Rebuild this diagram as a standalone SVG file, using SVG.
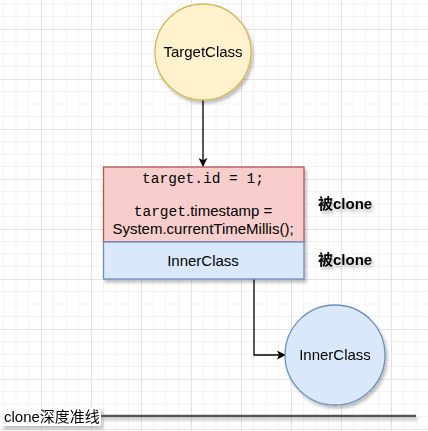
<svg xmlns="http://www.w3.org/2000/svg" width="428" height="431" viewBox="0 0 428 431">
<defs>
<pattern id="grid" patternUnits="userSpaceOnUse" x="41" y="29" width="50" height="50">
<path d="M12.5 0V50M25 0V50M37.5 0V50M0 12.5H50M0 25H50M0 37.5H50" stroke="#f3f3f3" stroke-width="1" fill="none"/>
<path d="M0.5 0V50M0 0.5H50" stroke="#e3e3e3" stroke-width="1" fill="none"/>
</pattern>
<filter id="sh" x="-20%" y="-20%" width="150%" height="150%">
<feDropShadow dx="2" dy="3" stdDeviation="1.5" flood-color="#000" flood-opacity="0.25"/>
</filter>
<marker id="arr" viewBox="0 0 10 10" refX="9" refY="5" markerWidth="9" markerHeight="9" markerUnits="userSpaceOnUse" orient="auto">
<path d="M0 0L10 5L0 10L2.5 5Z" fill="#000"/>
</marker>
<style>
.t{font-family:"Liberation Sans",Arial,sans-serif;font-size:15px;fill:#000}
.m{font-family:"Liberation Mono","Courier New",monospace;font-size:14.5px}
.b{font-family:"Liberation Sans",Arial,"Noto Sans CJK SC",sans-serif;font-size:15px;font-weight:bold;fill:#000}
.c{font-family:"Liberation Sans",Arial,"Noto Sans CJK SC",sans-serif;font-size:15px;fill:#000}
</style>
</defs>
<rect width="428" height="431" fill="#fff"/>
<rect width="428" height="431" fill="url(#grid)"/>
<g id="connectors" fill="none" stroke="#000" stroke-width="1.3">
<path d="M203 100V166" marker-end="url(#arr)"/>
<path d="M254 279V355H285" marker-end="url(#arr)"/>
</g>
<g id="targetclass" filter="url(#sh)">
<circle cx="203" cy="52" r="48" fill="#fff2cc" stroke="#d6b656" stroke-width="1.3"/>
<text class="t" x="203" y="57" text-anchor="middle">TargetClass</text>
</g>
<g id="classbox" filter="url(#sh)">
<rect x="103.5" y="167" width="200.5" height="75" fill="#f8cecc" stroke="#b85450" stroke-width="1.3"/>
<rect x="103.5" y="242" width="200.5" height="37" fill="#dae8fc" stroke="#6c8ebf" stroke-width="1.3"/>
</g>
<g id="classbox-text">
<text class="t m" x="203" y="183" text-anchor="middle">target.id = 1;</text>
<text class="t" x="203" y="216" text-anchor="middle"><tspan class="m">target</tspan>.timestamp =</text>
<text class="t" x="203" y="234" text-anchor="middle">System.currentTimeMillis();</text>
<text class="t" x="203" y="266" text-anchor="middle">InnerClass</text>
</g>
<g id="innerclass" filter="url(#sh)">
<circle cx="335" cy="355" r="50" fill="#dae8fc" stroke="#6c8ebf" stroke-width="1.3"/>
<text class="t" x="335" y="360" text-anchor="middle">InnerClass</text>
</g>
<g id="label1" filter="url(#sh)">
<text class="b" x="318" y="209">被clone</text>
</g>
<g id="label2" filter="url(#sh)">
<text class="b" x="318" y="265">被clone</text>
</g>
<g id="baseline" filter="url(#sh)">
<line x1="100" y1="416" x2="416" y2="416" stroke="#555" stroke-width="2.5"/>
<rect x="2" y="407" width="99" height="19" fill="#fff"/>
<text class="c" x="4" y="422">clone深度准线</text>
</g>
</svg>
